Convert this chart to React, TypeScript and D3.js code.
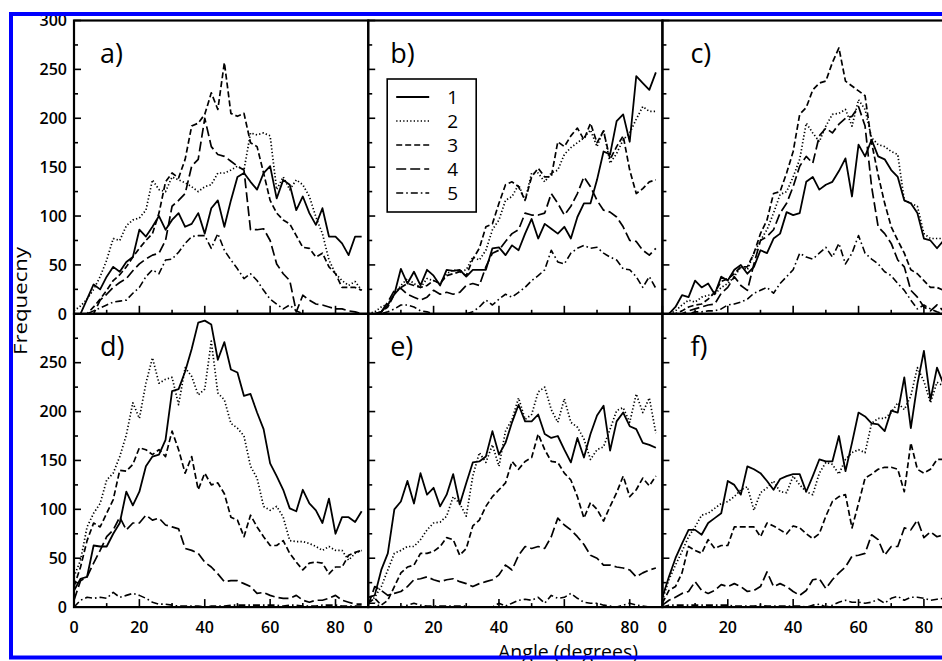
import React from 'react';
import { scaleLinear, line as d3line, range as d3range } from 'd3';

const angles = [0,2,4,6,8,10,12,14,16,18,20,22,24,26,28,30,32,34,36,38,40,42,44,46,48,50,52,54,56,58,60,62,64,66,68,70,72,74,76,78,80,82,84,86,88];
const panelLabels = ['a)', 'b)', 'c)', 'd)', 'e)', 'f)'];
const seriesNames = ['1', '2', '3', '4', '5'];
const yTickLabels = [0, 50, 100, 150, 200, 250, 300];
const xTickLabels = [0, 20, 40, 60, 80];
const xTitle = 'Angle (degrees)';
const yTitle = 'Frequecny';

// panel a
const a1 = [0,0,15,30,25,38,48,43,53,58,86,79,89,100,86,96,103,89,92,103,82,108,116,89,116,140,144,135,127,144,151,118,137,132,106,120,103,91,108,79,79,72,60,79,79];
const a2 = [3,8,15,25,38,55,77,75,90,96,98,106,137,127,125,140,137,134,130,125,130,132,144,144,147,151,147,185,183,185,182,127,140,127,137,132,120,99,82,55,41,34,29,33,24];
const a3 = [0,0,0,7,15,24,34,40,48,58,67,75,82,103,135,144,139,158,192,195,204,226,209,257,205,202,205,175,171,144,116,103,96,92,80,68,67,58,62,48,41,27,27,27,24];
const a4 = [0,0,0,0,14,20,27,32,36,44,51,56,60,62,75,110,116,123,151,158,200,171,163,161,156,151,147,86,86,87,75,51,41,34,2,19,14,10,9,7,5,5,3,2,0];
const a5 = [0,0,0,3,6,9,12,13,14,21,27,38,45,41,55,56,63,72,79,80,80,67,82,65,55,46,36,41,34,24,15,10,5,9,3,0,0,0,0,0,0,0,0,0,0];
// panel b
const b1 = [0,0,2,9,20,46,31,43,29,45,39,29,45,44,45,38,45,45,45,67,68,60,70,65,82,97,77,92,87,82,89,77,99,113,113,137,166,163,197,204,176,243,236,229,247];
const b2 = [0,2,7,10,20,29,36,31,27,36,34,31,41,45,43,45,58,55,65,86,96,116,120,132,116,144,144,135,144,147,163,170,175,180,188,171,188,154,164,178,185,199,212,207,207];
const b3 = [0,0,2,7,20,27,31,29,27,29,34,31,39,41,43,39,56,67,89,92,113,132,135,130,116,140,149,140,140,176,171,182,190,178,195,175,187,158,171,182,147,123,128,135,137];
const b4 = [0,0,2,12,24,26,20,17,14,17,24,20,22,20,22,29,31,29,48,62,65,74,82,86,103,101,101,103,123,113,101,110,123,140,130,116,106,104,99,89,75,74,65,60,67];
const b5 = [0,0,0,2,5,9,9,7,3,2,0,0,0,0,0,0,2,7,14,9,15,20,17,22,27,34,39,45,65,53,51,62,67,70,67,68,62,58,55,46,45,38,27,38,26];
// panel c
const c1 = [0,0,7,19,17,34,27,31,20,38,34,45,50,41,48,65,62,77,82,104,101,103,135,140,127,132,135,146,159,120,173,161,178,161,158,147,140,116,113,103,77,75,67,75,75];
const c2 = [0,0,3,9,14,12,17,19,20,27,31,38,48,45,62,75,86,103,122,125,140,158,195,185,176,192,204,205,209,192,219,209,180,173,171,166,163,116,113,110,82,77,77,77,77];
const c3 = [0,0,0,3,7,9,10,15,22,33,36,41,48,48,62,82,96,123,125,144,166,204,211,229,236,238,257,272,238,233,228,223,175,142,113,89,75,62,45,41,34,27,27,24,22];
const c4 = [0,0,0,0,3,5,7,9,10,21,27,38,29,24,51,75,79,86,103,113,130,151,161,154,182,190,185,194,200,202,212,192,130,89,82,72,55,48,24,17,7,3,9,3,2];
const c5 = [0,0,0,0,0,2,2,3,3,5,9,10,12,15,21,24,27,21,31,38,45,62,58,56,62,68,58,72,51,62,80,62,56,51,43,39,31,24,14,5,9,5,2,0,0];
// panel d
const d1 = [17,29,31,63,62,62,75,86,118,104,118,144,154,156,171,221,223,241,264,291,293,289,253,271,243,240,216,218,199,182,147,134,120,101,98,120,106,99,86,111,75,92,92,87,98];
const d2 = [31,48,82,96,106,130,137,154,176,209,193,229,255,229,233,235,207,245,236,217,223,272,219,212,188,183,175,144,132,103,99,103,92,68,67,67,65,62,58,62,58,58,48,55,58];
const d3 = [21,41,68,86,82,96,110,140,139,146,163,161,156,161,154,180,161,137,154,120,137,125,127,116,92,89,72,94,82,72,63,63,68,55,46,38,45,46,45,34,41,41,53,56,58];
const d4 = [7,27,31,45,58,72,79,92,79,86,86,94,89,91,84,82,80,60,58,55,46,41,34,26,27,27,24,21,14,15,12,10,9,9,12,7,5,7,7,9,12,7,5,3,3];
const d5 = [0,7,10,9,10,9,15,10,12,14,12,9,5,3,3,2,1,1,1,1,0,1,1,1,2,2,2,2,2,2,2,2,1,2,2,1,1,1,2,2,2,1,1,1,1];
// panel e
const e1 = [10,12,38,55,100,108,129,106,137,115,122,103,115,136,105,127,148,149,154,180,156,168,189,207,190,190,197,177,173,175,161,148,173,153,177,196,206,160,190,199,185,182,168,166,163];
const e2 = [4,10,21,38,55,58,62,62,69,79,86,87,93,113,106,93,134,158,148,166,144,180,192,214,192,197,220,225,202,189,213,189,184,172,151,161,164,182,201,204,189,218,199,214,178];
const e3 = [4,9,2,7,21,35,41,43,55,55,57,62,71,69,53,60,83,89,103,113,120,127,149,141,149,153,177,161,149,148,137,130,113,91,107,100,88,103,117,134,113,120,132,124,134];
const e4 = [2,21,17,12,14,16,21,28,29,31,28,26,28,29,26,24,21,24,26,28,33,43,38,53,62,60,62,60,72,91,84,79,72,64,53,50,43,43,41,40,38,31,35,38,40];
const e5 = [4,4,0,0,0,0,2,4,2,1,1,1,1,1,1,1,0,0,0,0,4,1,4,7,8,7,10,4,12,9,10,14,9,5,4,4,2,1,0,2,4,2,1,0,0];
// panel f
const f1 = [10,31,50,65,79,79,74,86,91,96,129,125,115,144,141,137,129,120,131,134,136,136,118,134,151,149,149,175,139,168,199,195,188,187,180,201,199,235,183,228,262,212,245,228,235];
const f2 = [7,28,43,57,72,82,94,96,101,106,108,113,120,123,99,117,122,129,118,117,134,125,118,115,137,148,146,136,151,158,161,158,188,193,193,199,209,202,216,245,231,209,230,226,226];
const f3 = [4,17,21,35,62,58,55,69,60,63,63,82,82,82,82,72,86,83,79,75,83,81,75,70,75,93,108,113,115,81,106,132,136,141,143,143,141,118,168,141,137,141,151,151,151];
const f4 = [2,7,10,14,16,26,17,14,17,23,21,24,21,16,17,21,36,21,24,21,16,12,17,28,29,19,28,35,41,52,53,55,74,69,53,62,62,81,79,89,71,77,72,74,74];
const f5 = [0,2,2,2,2,2,2,2,2,2,2,1,1,1,1,2,1,1,1,1,1,1,0,2,3,0,2,5,7,5,5,4,5,8,4,9,11,7,10,10,9,7,8,9,9];

const panelData = [
  [a1, a2, a3, a4, a5],
  [b1, b2, b3, b4, b5],
  [c1, c2, c3, c4, c5],
  [d1, d2, d3, d4, d5],
  [e1, e2, e3, e4, e5],
  [f1, f2, f3, f4, f5],
];

const W = 942;
const H = 661;
const left0 = 74;
const top0 = 20.5;
const pw = 294.2;
const ph = 293.3;
const dashes = [undefined, '1.3,2.2', '6,3', '10,4', '7,3,1.6,3'];
const widths = [1.8, 1.7, 1.7, 1.7, 1.6];
const labelOffsets = [26, 22, 28];
const font = '"Open Sans", sans-serif';

export default function App() {
  const panels = panelData.map((series, i) => {
    const col = i % 3;
    const row = Math.floor(i / 3);
    const x0 = left0 + col * pw;
    const y0 = top0 + row * ph;
    const x = scaleLinear().domain([0, 90]).range([x0, x0 + pw]);
    const y = scaleLinear().domain([0, 300]).range([y0 + ph, y0]);
    const line = d3line<number>().x((_, k) => x(angles[k])).y((v) => y(v));
    const yTicks = d3range(0, 301, 25);
    const xTicks = d3range(0, 90, 10);
    return (
      <g key={i}>
        <defs>
          <clipPath id={`clip${i}`}>
            <rect x={x0} y={y0} width={pw} height={ph} />
          </clipPath>
        </defs>
        <g clipPath={`url(#clip${i})`}>
          {series.map((vals, s) => (
            <path key={s} d={line(vals) || ''} fill="none" stroke="#000"
              strokeWidth={widths[s]} strokeDasharray={dashes[s]} strokeLinejoin="round" />
          ))}
        </g>
        <rect x={x0} y={y0} width={pw} height={ph} fill="none" stroke="#000" strokeWidth={2.2} />
        {yTicks.map((v) => (
          <line key={'y' + v} x1={x0} x2={x0 + (v % 50 === 0 ? 7 : 4)} y1={y(v)} y2={y(v)} stroke="#000" strokeWidth={1.6} />
        ))}
        {xTicks.map((v) => (
          <line key={'x' + v} x1={x(v)} x2={x(v)} y1={y0 + ph} y2={y0 + ph - (v % 20 === 0 ? 8 : 4)} stroke="#000" strokeWidth={1.6} />
        ))}
        {col === 0 && yTickLabels.filter((v) => row === 0 || v < 300).map((v) => (
          <text key={'yl' + v} x={x0 - 7} y={y(v) + 5.8} textAnchor="end" fontSize={16} fontWeight={600} fontFamily={font} fill="#000">{v}</text>
        ))}
        {row === 1 && xTickLabels.map((v) => (
          <text key={'xl' + v} x={x(v)} y={y0 + ph + 25.5} textAnchor="middle" fontSize={16} fontWeight={600} fontFamily={font} fill="#000">{v}</text>
        ))}
        <text x={x0 + labelOffsets[col]} y={y0 + 42} fontSize={27} fontWeight={500} fontFamily={font} fill="#000">{panelLabels[i]}</text>
        {i === 1 && (
          <g>
            <rect x={x0 + 19} y={y0 + 58.5} width={89} height={133} fill="#fff" stroke="#000" strokeWidth={1.6} />
            {seriesNames.map((nm, s) => (
              <g key={nm}>
                <line x1={x0 + 28} x2={x0 + 61} y1={y0 + 76.5 + s * 24} y2={y0 + 76.5 + s * 24}
                  stroke="#000" strokeWidth={widths[s]} strokeDasharray={dashes[s]} />
                <text x={x0 + 79} y={y0 + 76.5 + s * 24 + 7} fontSize={19} fontWeight={500} fontFamily={font} fill="#000">{nm}</text>
              </g>
            ))}
          </g>
        )}
      </g>
    );
  });

  return (
    <svg width={W} height={H} style={{ position: 'absolute', left: 0, top: 0, background: '#fff' }}>
      <rect x={0} y={0} width={W} height={H} fill="#fff" />
      {panels}
      <text x={568} y={658.5} textAnchor="middle" fontSize={19.5} fontWeight={500} fontFamily={font} fill="#000">{xTitle}</text>
      <text transform="translate(27,301) rotate(-90)" textAnchor="middle" fontSize={18} fontFamily={font} fill="#000"
        textLength={108} lengthAdjust="spacingAndGlyphs">{yTitle}</text>
      <rect x={11} y={14} width={980} height={643.5} fill="none" stroke="#0000ff" strokeWidth={4} />
    </svg>
  );
}
